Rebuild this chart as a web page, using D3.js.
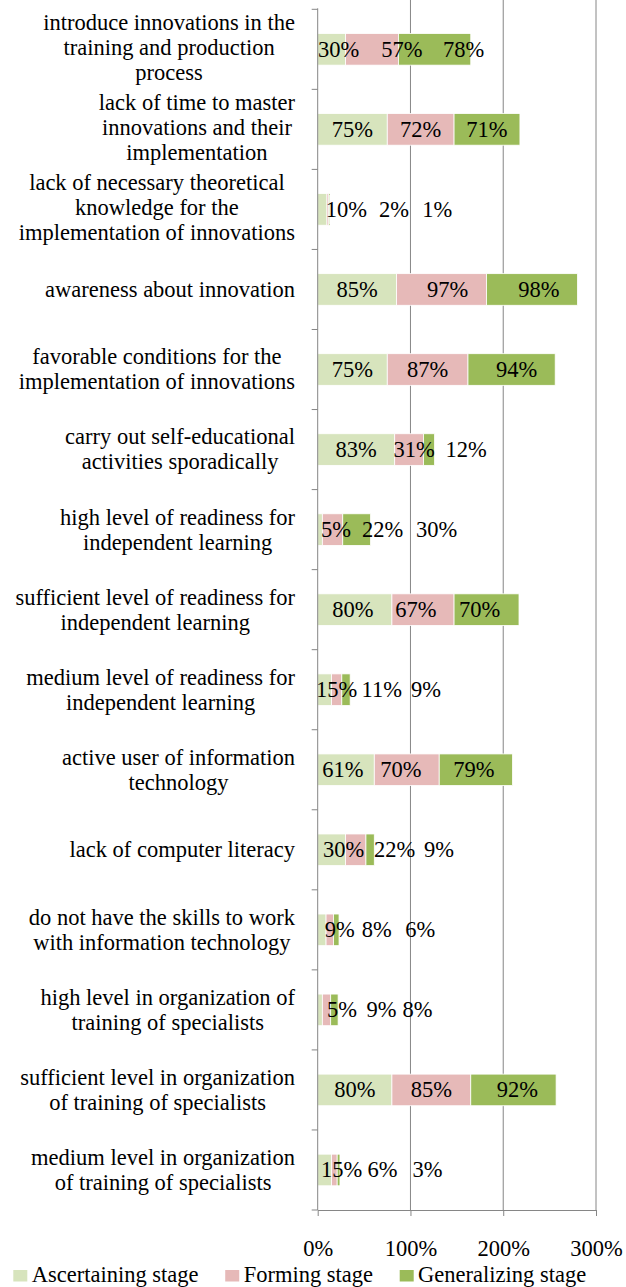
<!DOCTYPE html>
<html>
<head>
<meta charset="utf-8">
<script src="https://cdn.jsdelivr.net/npm/d3@7/dist/d3.min.js"></script>
<style>
  html, body { margin: 0; padding: 0; background: #fff; }
  svg { display: block; }
  text { font-family: "Liberation Serif", "Times New Roman", serif; fill: #000; }
</style>
</head>
<body>
<svg id="chart" width="626" height="1287"></svg>
<script>
// Categories (line breaks mark where each label wraps)
const categories = [
  "introduce innovations in the\ntraining and production\nprocess",
  "lack of time to master\ninnovations and their\nimplementation",
  "lack of necessary theoretical\nknowledge for the\nimplementation of innovations",
  "awareness about innovation",
  "favorable conditions for the\nimplementation of innovations",
  "carry out self-educational\nactivities sporadically",
  "high level of readiness for\nindependent learning",
  "sufficient level of readiness for\nindependent learning",
  "medium level of readiness for\nindependent learning",
  "active user of information\ntechnology",
  "lack of computer literacy",
  "do not have the skills to work\nwith information technology",
  "high level in organization of\ntraining of specialists",
  "sufficient level in organization\nof training of specialists",
  "medium level in organization\nof training of specialists"
];

// Series values, percent
const ascertaining = [30, 75, 10, 85, 75, 83, 5, 80, 15, 61, 30, 9, 5, 80, 15];
const forming      = [57, 72, 2, 97, 87, 31, 22, 67, 11, 70, 22, 8, 9, 85, 6];
const generalizing = [78, 71, 1, 98, 94, 12, 30, 70, 9, 79, 9, 6, 8, 92, 3];

const seriesNames = ["Ascertaining stage", "Forming stage", "Generalizing stage"];
const xTicks = [0, 100, 200, 300];

// Styling / layout (kept apart from the data)
const colors = ["#D7E4BD", "#E6B9B8", "#9BBB59"];
const fontSize = 22.5;
// horizontal nudges (px) for value labels that were moved off their segment centre
const labelNudge = [
  [7, 30, 29], [0, 0, 0], [24, 66, 108], [0, 6, 7], [0, 0, 5],
  [0, 5, 37], [16, 50, 80], [-2, -7, -7], [12, 45, 80], [-3, -6, -2],
  [12, 39, 69], [18, 47, 84], [22, 55, 83], [0, 0, 4], [17, 48, 89]
];

const keys = ["a", "f", "g"];
const table = categories.map((c, i) => ({
  cat: c, a: ascertaining[i], f: forming[i], g: generalizing[i], idx: i
}));

const svg = d3.select("#chart");
const plotLeft = 317.7, plotRight = 596, plotTop = 9.3, plotBottom = 1210;
const axisColor = "#868686";

const x = d3.scaleLinear().domain([0, 300]).range([plotLeft, plotRight]);
const y = d3.scaleBand().domain(categories).range([plotTop, plotBottom])
  .paddingInner(0.605).paddingOuter(0.3025);

// vertical gridlines
svg.append("g").selectAll("line")
  .data(xTicks.filter(d => d > 0))
  .join("line")
  .attr("x1", d => x(d)).attr("x2", d => x(d))
  .attr("y1", 0).attr("y2", plotBottom)
  .attr("stroke", axisColor).attr("stroke-width", 1);

// stacked bars
const stacked = d3.stack().keys(keys)(table);
const layers = svg.append("g").selectAll("g")
  .data(stacked)
  .join("g")
  .attr("fill", (d, i) => colors[i]);

layers.selectAll("rect")
  .data(d => d)
  .join("rect")
  .attr("x", d => x(d[0]))
  .attr("width", d => x(d[1]) - x(d[0]))
  .attr("y", d => y(d.data.cat))
  .attr("height", y.bandwidth())
  .attr("stroke", "#fff")
  .attr("stroke-width", 0.8);

// value labels
stacked.forEach((layer, si) => {
  svg.append("g").selectAll("text")
    .data(layer)
    .join("text")
    .attr("x", d => (x(d[0]) + x(d[1])) / 2 + labelNudge[d.data.idx][si])
    .attr("y", d => y(d.data.cat) + y.bandwidth() / 2)
    .attr("dy", "0.33em")
    .attr("text-anchor", "middle")
    .style("font-size", fontSize + "px")
    .text(d => (d[1] - d[0]) + "%");
});

// y axis line and category tick marks
const yAxis = svg.append("g");
yAxis.append("line")
  .attr("x1", plotLeft).attr("x2", plotLeft)
  .attr("y1", plotTop - 1).attr("y2", plotBottom)
  .attr("stroke", axisColor).attr("stroke-width", 1);
const step = y.step();
yAxis.selectAll("line.tick")
  .data(d3.range(categories.length + 1))
  .join("line")
  .attr("class", "tick")
  .attr("x1", plotLeft - 6).attr("x2", plotLeft)
  .attr("y1", i => plotTop + i * step).attr("y2", i => plotTop + i * step)
  .attr("stroke", axisColor).attr("stroke-width", 1);

// category labels: lines centred on each other, block right-aligned
const labelRight = 295, lineH = 25;
const catG = svg.append("g");
categories.forEach(c => {
  const lines = c.split("\n");
  const cy = y(c) + y.bandwidth() / 2 - (lines.length > 2 ? 2 : 0);
  const texts = lines.map((ln, k) => catG.append("text")
    .attr("text-anchor", "middle")
    .attr("y", cy - (lines.length - 1) * lineH / 2 + k * lineH)
    .attr("dy", "0.33em")
    .style("font-size", fontSize + "px")
    .text(ln));
  const w = d3.max(texts, t => t.node().getComputedTextLength());
  texts.forEach(t => t.attr("x", labelRight - w / 2));
});

// x axis
const xAxis = svg.append("g")
  .attr("transform", `translate(0,${plotBottom})`)
  .call(d3.axisBottom(x).tickValues(xTicks).tickFormat(d => d + "%").tickSize(6).tickSizeOuter(0));
xAxis.select(".domain").attr("stroke", axisColor);
xAxis.selectAll(".tick line").attr("stroke", axisColor);
xAxis.selectAll(".tick text")
  .attr("y", 46).attr("dy", 0)
  .style("font-size", fontSize + "px")
  .style("font-family", '"Liberation Serif", "Times New Roman", serif')
  .attr("fill", "#000");

// legend
const legend = svg.append("g");
let lx = 13.3;
seriesNames.forEach((name, i) => {
  legend.append("rect")
    .attr("x", lx).attr("y", 1270)
    .attr("width", 14).attr("height", 11.5)
    .attr("fill", colors[i]);
  const t = legend.append("text")
    .attr("x", lx + 18.4).attr("y", 1282)
    .style("font-size", fontSize + "px")
    .text(name);
  lx += 18.4 + t.node().getComputedTextLength() + 26.7;
});
</script>
</body>
</html>
